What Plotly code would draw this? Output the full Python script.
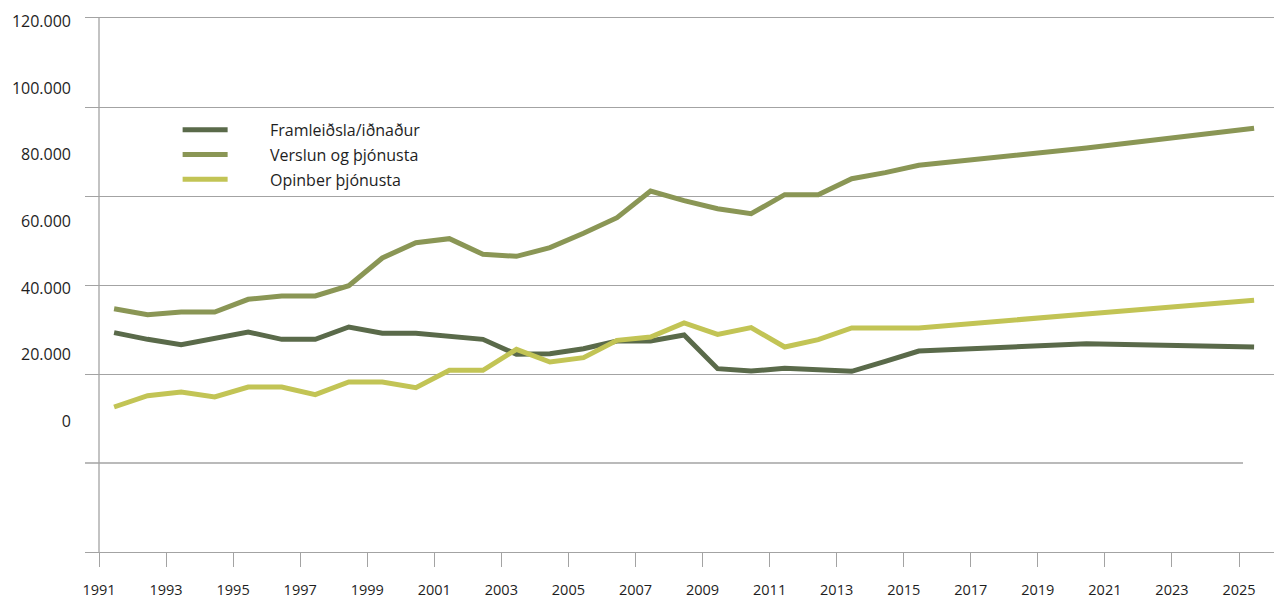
import plotly.graph_objects as go

# ---- data ----
years = list(range(1991, 2016)) + [2020, 2025]

framleidsla = [26600, 24600, 23000, 25000, 26800, 24600, 24600, 28300, 26400, 26400,
               25600, 24600, 20100, 20300, 21800, 24100, 24100, 25900, 15800, 15100,
               15900, 15600, 15000, 18000, 21100, 23300, 22300]
verslun = [33800, 32000, 32800, 32800, 36600, 37600, 37600, 40700, 49000, 53600,
           54800, 50100, 49500, 52100, 56400, 61100, 69100, 66200, 63800, 62300,
           68000, 68000, 72800, 74600, 76800, 82000, 87900]
opinber = [4300, 7700, 8800, 7300, 10300, 10300, 8000, 11800, 11800, 10100,
           15300, 15300, 21600, 17800, 19100, 24300, 25300, 29500, 26100, 28100,
           22300, 24500, 28000, 28000, 28000, 32200, 36300]

series_names = ["Framleiðsla/iðnaður", "Verslun og þjónusta", "Opinber þjónusta"]
series_colors = ["#5a6a4a", "#8a9655", "#c2c455"]

tick_years = list(range(1991, 2026, 2))
tick_labels = [str(y) for y in tick_years]

y_label_vals = [0, 20000, 40000, 60000, 80000, 100000, 120000]
y_label_text = ["0", "20.000", "40.000", "60.000", "80.000", "100.000", "120.000"]
grid_vals = [121000, 94300, 67600, 40900, 14200, -39200]
short_grid_val = -12500

# ---- figure ----
FONT = "Open Sans"
GRID = "#a3a3a3"
TXT = "#1e1e1e"
fig = go.Figure()
pad = "\u00a0" * 9
for i, (name, vals, col) in enumerate(zip(series_names, [framleidsla, verslun, opinber], series_colors)):
    fig.add_trace(go.Scatter(x=years, y=vals, mode="lines", name=pad + name,
                             legendgroup=f"g{i}",
                             line=dict(color=col, width=5)))
# helper trace so the grid axis renders
fig.add_trace(go.Scatter(x=[None], y=[None], yaxis="y2", showlegend=False, hoverinfo="skip"))

tick_offset = 0.45
tickvals = [y - tick_offset for y in tick_years]
px_per_year = (1239 - 99) / 34
xmin = tickvals[0] - 14 / px_per_year
xmax = xmin + 1189 / px_per_year

fig.update_layout(
    width=1274, height=598,
    margin=dict(l=85, r=0, t=18, b=46),
    plot_bgcolor="white", paper_bgcolor="white",
    font=dict(family=FONT, size=16, color=TXT),
    showlegend=True,
    legend=dict(x=0.0779, y=0.8225, xanchor="left", yanchor="top",
                bgcolor="rgba(0,0,0,0)", itemwidth=45, tracegroupgap=1,
                font=dict(family=FONT, size=16, color=TXT)),
    xaxis=dict(range=[xmin, xmax], tickmode="array", tickvals=tickvals, ticktext=tick_labels,
               ticks="outside", ticklen=14, tickcolor=GRID, tickwidth=1.3,
               ticklabelstandoff=10,
               showgrid=False, zeroline=False, showline=True, mirror=True,
               linecolor=GRID, linewidth=1.3,
               tickfont=dict(family=FONT, size=14.5, color=TXT)),
    yaxis=dict(range=[-39200, 121000], tickmode="array", tickvals=y_label_vals,
               ticktext=y_label_text, showgrid=False, zeroline=False, showline=False,
               ticks="", ticklabelstandoff=13,
               tickfont=dict(family=FONT, size=16, color=TXT)),
    yaxis2=dict(range=[-39200, 121000], overlaying="y", side="left", tickmode="array",
                tickvals=grid_vals, showticklabels=False, showgrid=True, gridcolor=GRID,
                gridwidth=1.3, zeroline=False, showline=False, ticks=""),
)
# vertical axis line at first tick
fig.add_shape(type="line", xref="x", yref="paper", x0=tickvals[0], x1=tickvals[0],
              y0=0, y1=1, line=dict(color=GRID, width=1.3), layer="below")
# shorter grid line (ends before the right edge, as in the original)
fig.add_shape(type="line", xref="paper", yref="y", x0=0, x1=(1243 - 85) / 1189,
              y0=short_grid_val, y1=short_grid_val, line=dict(color=GRID, width=1.3),
              layer="below")

fig.write_html("out.html", config={"displayModeBar": False},
               post_script="document.body.style.margin='0';document.body.style.overflow='hidden';")
